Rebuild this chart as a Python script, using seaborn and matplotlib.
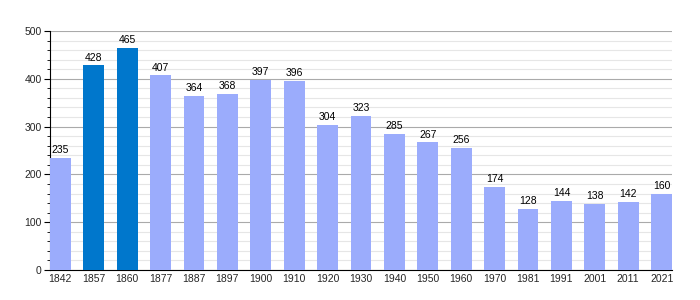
import matplotlib
matplotlib.use("Agg")
import matplotlib.pyplot as plt
import seaborn as sns
import pandas as pd
from matplotlib.ticker import MultipleLocator

years = ["1842", "1857", "1860", "1877", "1887", "1897", "1900", "1910", "1920",
         "1930", "1940", "1950", "1960", "1970", "1981", "1991", "2001", "2011", "2021"]
population = [235, 428, 465, 407, 364, 368, 397, 396, 304, 323, 285, 267, 256,
              174, 128, 144, 138, 142, 160]
highlight = ["1857", "1860"]

light = "#9bacfc"
dark = "#0077cc"
colors = [dark if y in highlight else light for y in years]

df = pd.DataFrame({"year": years, "pop": population})

sns.set_style("white")
plt.rcParams["font.family"] = ["Liberation Sans", "DejaVu Sans"]
fig = plt.figure(figsize=(7, 3), dpi=100)
ax = fig.add_axes([50/700, 30/300, 622/700, 239/300])

sns.barplot(data=df, x="year", y="pop", hue="year", palette=colors,
            legend=False, width=0.62, saturation=1, ax=ax, zorder=3,
            linewidth=0)

ax.set_ylim(0, 500)
ax.set_xlim(-0.31, len(years) - 1 + 0.31)
ax.yaxis.set_major_locator(MultipleLocator(100))
ax.yaxis.set_minor_locator(MultipleLocator(20))
ax.grid(which="major", axis="y", color="#aaaaaa", linewidth=0.8, zorder=0)
ax.grid(which="minor", axis="y", color="#e6e6e6", linewidth=0.8, zorder=0)
ax.set_axisbelow(True)
for s in ["top", "right"]:
    ax.spines[s].set_visible(False)
ax.spines["left"].set_color("black")
ax.spines["bottom"].set_color("black")
ax.tick_params(axis="y", which="major", length=4, color="black", labelsize=7.5, pad=2, left=True)
ax.tick_params(axis="y", which="minor", length=2, color="black", left=True)
ax.tick_params(axis="x", length=0, labelsize=7.5, pad=3)
ax.set_xlabel("")
ax.set_ylabel("")

for i, v in enumerate(population):
    ax.text(i, v + 6, str(v), ha="center", va="bottom", fontsize=7.5, color="black")

fig.savefig("out.png", dpi=100)
